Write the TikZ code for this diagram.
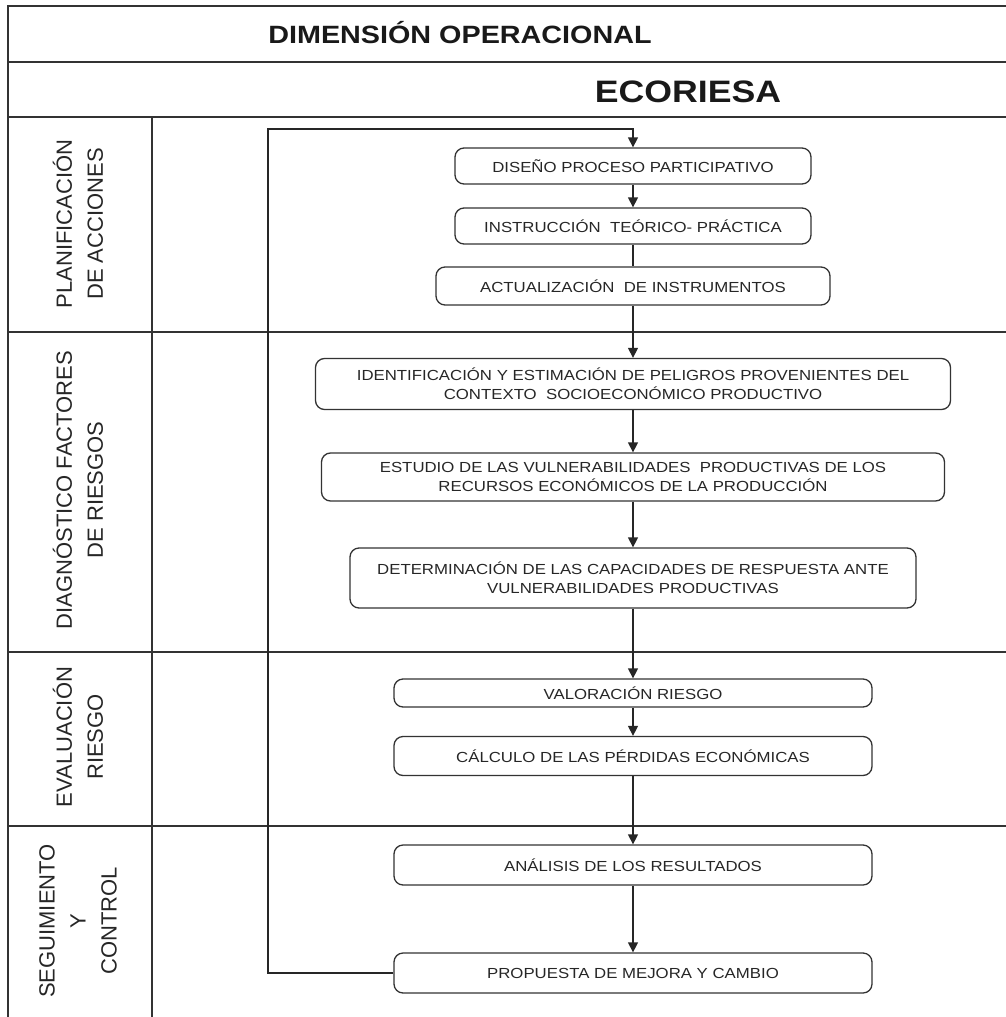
\documentclass[tikz,border=0pt]{standalone}
\usepackage{fontspec}
\setmainfont{Liberation Sans}
\newfontfamily\anchafont[FakeStretch=1.15]{Liberation Sans}
\usetikzlibrary{arrows.meta}
\begin{document}
\begin{tikzpicture}[x=1pt,y=-1pt,
	linea/.style={draw=black!80,line width=1.8pt},
	paso/.style={draw=black!80,line width=1.3pt,rounded corners=9pt,inner sep=0pt,align=center,
		text=black!85,font=\anchafont\fontsize{14.6}{19}\selectfont},
	fase/.style={rotate=90,align=center,text=black!85,font=\fontsize{22}{31}\selectfont},
	flecha/.style={draw=black!85,line width=1.3pt,-{Triangle[length=10pt,width=10pt]}}]
\useasboundingbox (0,0) rectangle (1006,1017);
% marco
\draw[linea] (1006,6) -- (8,6) -- (8,1017);
\foreach \y in {62,117,332,652,826}
	\draw[linea] (8,\y) -- (1006,\y);
\draw[linea] (152,117) -- (152,1017);
% titulos
\node[anchor=base,text=black!90,font=\anchafont\bfseries\fontsize{25}{30}\selectfont] (dim) at (460,43) {DIMENSIÓN OPERACIONAL};
\node[anchor=base,text=black!90,font=\anchafont\bfseries\fontsize{31}{36}\selectfont] (eco) at (688,102) {ECORIESA};
% fases
\node[fase] (plan) at (78,224) {PLANIFICACIÓN\\DE ACCIONES};
\node[fase] (diag) at (78,490) {DIAGNÓSTICO FACTORES\\DE RIESGOS};
\node[fase] (eval) at (78,737) {EVALUACIÓN\\RIESGO};
\node[fase] (segu) at (78,921) {SEGUIMIENTO\\Y\\CONTROL};
% pasos
\node[paso,minimum width=356,minimum height=36] (p1) at (633,166) {DISEÑO PROCESO PARTICIPATIVO};
\node[paso,minimum width=356,minimum height=36] (p2) at (633,226) {INSTRUCCIÓN \ TEÓRICO- PRÁCTICA};
\node[paso,minimum width=394,minimum height=38] (p3) at (633,286) {ACTUALIZACIÓN \ DE INSTRUMENTOS};
\node[paso,minimum width=635,minimum height=51] (p4) at (633,384) {IDENTIFICACIÓN Y ESTIMACIÓN DE PELIGROS PROVENIENTES DEL\\CONTEXTO \ SOCIOECONÓMICO PRODUCTIVO};
\node[paso,minimum width=623,minimum height=48] (p5) at (633,477) {ESTUDIO DE LAS VULNERABILIDADES \ PRODUCTIVAS DE LOS\\RECURSOS ECONÓMICOS DE LA PRODUCCIÓN};
\node[paso,minimum width=566,minimum height=60] (p6) at (633,578) {DETERMINACIÓN DE LAS CAPACIDADES DE RESPUESTA ANTE\\VULNERABILIDADES PRODUCTIVAS};
\node[paso,minimum width=478,minimum height=28] (p7) at (633,693) {VALORACIÓN RIESGO};
\node[paso,minimum width=478,minimum height=39] (p8) at (633,756) {CÁLCULO DE LAS PÉRDIDAS ECONÓMICAS};
\node[paso,minimum width=478,minimum height=40] (p9) at (633,865) {ANÁLISIS DE LOS RESULTADOS};
\node[paso,minimum width=478,minimum height=40] (p10) at (633,973) {PROPUESTA DE MEJORA Y CAMBIO};
% flechas
\foreach \a/\b in {p1/p2,p3/p4,p4/p5,p5/p6,p6/p7,p7/p8,p8/p9,p9/p10}
	\draw[flecha] (\a) -- (\b);
\draw[flecha,-] (p2) -- (p3);
% retorno
\coordinate (r1) at (268,973);
\coordinate (r2) at (268,129);
\coordinate (r3) at (633,129);
\draw[flecha] (p10.west) -- (r1) -- (r2) -- (r3) -- (p1.north);
\end{tikzpicture}
\end{document}
